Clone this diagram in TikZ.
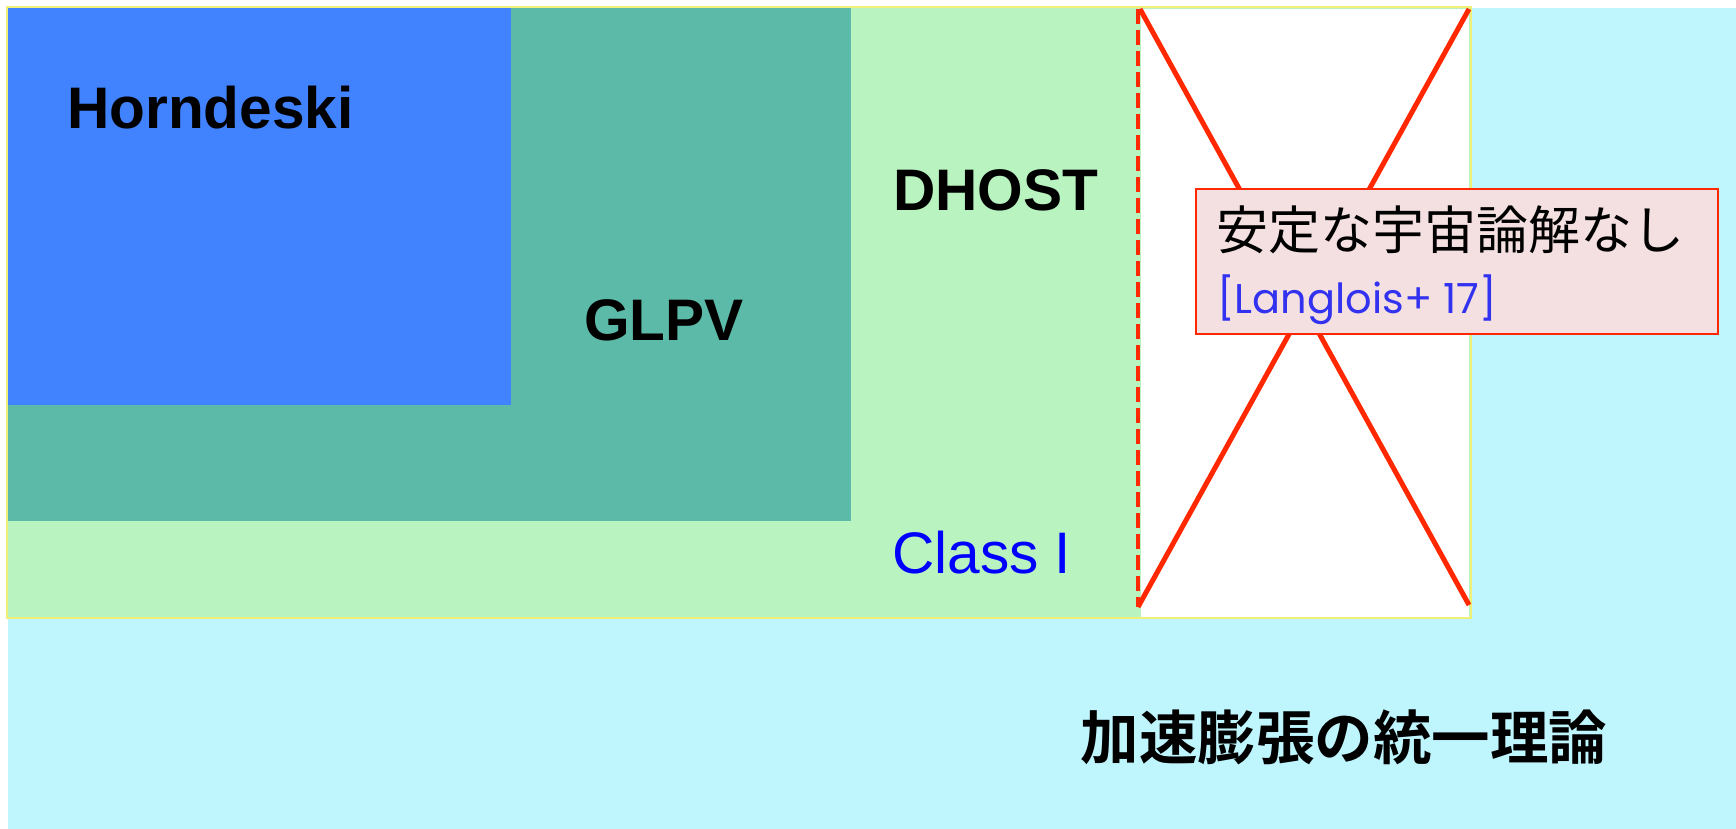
\documentclass[tikz,border=0pt]{standalone}
\usepackage{fontspec}
\setmainfont{Liberation Sans}
\newfontfamily\cjkbold{Noto Sans CJK JP}[BoldFont={* Bold}]
\newfontfamily\cjk{Noto Sans CJK JP}
\newfontfamily\refont{Poppins}
\definecolor{bgcyan}{RGB}{191,245,253}
\definecolor{dhgreen}{RGB}{185,244,192}
\definecolor{glteal}{RGB}{92,187,168}
\definecolor{hoblue}{RGB}{65,130,254}
\definecolor{edgeyellow}{RGB}{240,240,120}
\definecolor{notepink}{RGB}{244,224,224}
\definecolor{xred}{RGB}{255,40,0}
\definecolor{refblue}{RGB}{50,50,240}
\tikzset{
  bigbold/.style={font=\fontsize{58.6}{60}\selectfont\bfseries, inner sep=0pt, anchor=base west},
  cross/.style={draw=xred, line width=5pt},
}
\begin{document}
\begin{tikzpicture}[x=1pt,y=-1pt]
\useasboundingbox[fill=white] (0,0) rectangle (1736,829);
% regions
\fill[bgcyan] (8,8) rectangle (1736,829);
\fill[dhgreen] (8,8) rectangle (1471,618);
\draw[edgeyellow, line width=2pt] (7,7) rectangle (1471,618);
\fill[white] (1141,9) rectangle (1469,617);
\fill[glteal] (8,8) rectangle (851,521);
\fill[hoblue] (8,8) rectangle (511,405);
% labels
\node[bigbold] (horn) at (67,129) {Horndeski};
\node[bigbold] (glpv) at (584,340) {GLPV};
\node[bigbold] (dhost) at (893,210) {DHOST};
\node[bigbold, font=\fontsize{58.6}{60}\selectfont, text=blue] (class) at (892,573) {Class I};
\node[font=\cjkbold\fontsize{58.5}{60}\selectfont\bfseries, inner sep=0pt] (unified) at (1344,737) {加速膨張の統一理論};
% cross
\coordinate (xtl) at (1140,9);
\coordinate (xtr) at (1469,9);
\coordinate (xbl) at (1138,607);
\coordinate (xbr) at (1469,605);
\coordinate (dtop) at (1138,9);
\draw[xred, line width=4pt, dash pattern=on 15pt off 6pt] (dtop) -- (xbl);
\draw[cross] (xtl) -- (xbr);
\draw[cross] (xtr) -- (xbl);
% note box
\node[draw=xred, fill=notepink, line width=2pt, minimum width=522pt, minimum height=145pt, anchor=north west, inner sep=0pt] (note) at (1195,188) {};
\node[font=\cjk\fontsize{52}{54}\selectfont, inner sep=0pt, anchor=base west] (notext) at (1216,249) {安定な宇宙論解なし};
\node[font=\refont\fontsize{41.5}{43}\selectfont, text=refblue, inner sep=0pt, anchor=base west] (ref) at (1217,313) {[Langlois+ 17]};
\end{tikzpicture}
\end{document}
